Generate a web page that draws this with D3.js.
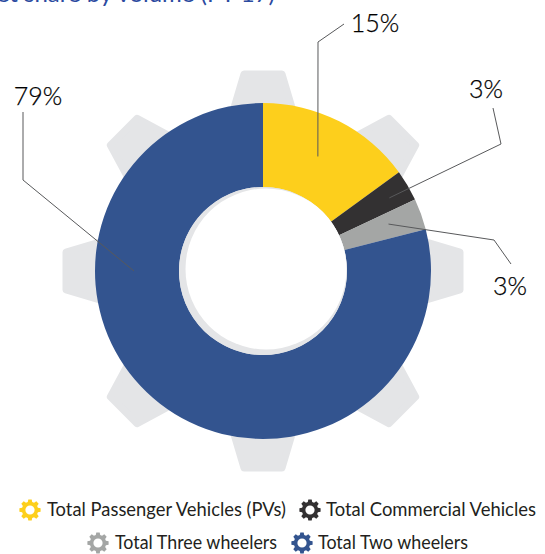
<!DOCTYPE html>
<html>
<head>
<meta charset="utf-8">
<script src="https://cdn.jsdelivr.net/npm/d3@7"></script>
<style>
  html, body { margin: 0; padding: 0; background: #fff; }
  svg { display: block; }
  text { font-family: "Lato", "Open Sans", sans-serif; }
</style>
</head>
<body>
<svg id="chart" width="545" height="554"></svg>
<script>
// Market share by volume, FY 17
const categories = ["Total Passenger Vehicles (PVs)", "Total Commercial Vehicles", "Total Three wheelers", "Total Two wheelers"];
const shares = [15, 3, 3, 79];
const shareLabels = ["15%", "3%", "3%", "79%"];
const sliceColors = ["#fdcf1c", "#333132", "#a4a6a5", "#33548f"];
const titleText = "Market share by volume (FY 17)";

const svg = d3.select("#chart");
const cx = 263, cy = 271;
const outerR = 168, innerR = 84;

// Gear outline shared by the backdrop and the legend keys
function gearPath(teeth, rOuter, rRoot, halfTop, halfBase) {
  const step = 2 * Math.PI / teeth;
  const pts = [];
  for (let i = 0; i < teeth; i++) {
    const a = i * step - Math.PI / 2;
    const ux = Math.cos(a), uy = Math.sin(a), vx = -uy, vy = ux;
    pts.push([rRoot * ux - halfBase * vx, rRoot * uy - halfBase * vy]);
    pts.push([rOuter * ux - halfTop * vx, rOuter * uy - halfTop * vy]);
    pts.push([rOuter * ux + halfTop * vx, rOuter * uy + halfTop * vy]);
    pts.push([rRoot * ux + halfBase * vx, rRoot * uy + halfBase * vy]);
  }
  return d3.line().curve(d3.curveLinearClosed)(pts);
}

// Backdrop gear
svg.append("path")
  .attr("transform", `translate(${cx},${cy})`)
  .attr("d", gearPath(8, 197, 150, 19, 33))
  .attr("fill", "#e4e5e7")
  .attr("stroke", "#e4e5e7")
  .attr("stroke-width", 7)
  .attr("stroke-linejoin", "round");

// Donut slices
const pie = d3.pie().sort(null).value(d => d);
const arc = d3.arc().innerRadius(innerR).outerRadius(outerR);
const arcs = pie(shares);
svg.append("g")
  .attr("transform", `translate(${cx},${cy})`)
  .selectAll("path")
  .data(arcs)
  .join("path")
  .attr("d", arc)
  .attr("fill", (d, i) => sliceColors[i]);

// Hole: pale rim with the white disc sitting up and to the right of it
svg.append("circle").attr("cx", cx).attr("cy", cy).attr("r", innerR).attr("fill", "#e4e5e7");
svg.append("circle").attr("cx", cx + 3).attr("cy", cy - 2).attr("r", 80.5).attr("fill", "#fff");

// Leader lines start inside their slice, at a fraction of its sweep and a set radius
const leaders = [
  { along: 0.474, radius: 127, path: [[318, 42], [344, 24]] },
  { along: 0.55, radius: 146, path: [[501, 144], [493, 108]] },
  { along: 0.435, radius: 134, path: [[494, 240], [511, 264]] },
  { along: 0.6835, radius: 129, path: [[23, 180], [23, 112]] }
];
const labelPos = [[375, 32], [486, 98], [510, 295], [38, 105]];
function leaderStart(leader, i) {
  const s = arcs[i];
  const [x, y] = d3.pointRadial(s.startAngle + leader.along * (s.endAngle - s.startAngle), leader.radius);
  return [cx + x, cy + y];
}
svg.append("g").selectAll("path")
  .data(leaders)
  .join("path")
  .attr("d", (d, i) => d3.line()([leaderStart(d, i), ...d.path]))
  .attr("fill", "none")
  .attr("stroke", "#58595b")
  .attr("stroke-width", 1);

svg.append("g").selectAll("text")
  .data(shareLabels)
  .join("text")
  .attr("x", (d, i) => labelPos[i][0])
  .attr("y", (d, i) => labelPos[i][1])
  .attr("text-anchor", "middle")
  .attr("font-size", 25)
  .attr("font-weight", 300)
  .attr("fill", "#000")
  .attr("stroke", "#000")
  .attr("stroke-width", 0.25)
  .text(d => d);

// Title, running off the top edge
svg.append("text")
  .attr("x", 275).attr("y", 2)
  .attr("text-anchor", "end")
  .attr("font-size", 24)
  .attr("fill", "#2b4aa0")
  .text(titleText);

// Legend: two centred rows of gear keys
const legendRows = [
  { y: 510, items: [{ i: 0, key: 30, text: 47, width: 239 }, { i: 1, key: 310, text: 326, width: 210 }] },
  { y: 543, items: [{ i: 2, key: 98, text: 115, width: 162 }, { i: 3, key: 302, text: 318, width: 150 }] }
];
const legend = svg.append("g");
legendRows.forEach(row => {
  row.items.forEach(it => {
    legend.append("path")
      .attr("fill-rule", "evenodd")
      .attr("transform", `translate(${it.key},${row.y})`)
      .attr("d", gearPath(8, 10.6, 7.9, 1.7, 2.2) + d3.arc()({ innerRadius: 0, outerRadius: 4.6, startAngle: 0, endAngle: 2 * Math.PI }))
      .attr("fill", sliceColors[it.i]);
    legend.append("text")
      .attr("x", it.text)
      .attr("y", row.y + 6)
      .attr("font-size", 18.5)
      .attr("textLength", it.width)
      .attr("lengthAdjust", "spacingAndGlyphs")
      .attr("fill", "#231f20")
      .text(categories[it.i]);
  });
});
</script>
</body>
</html>
